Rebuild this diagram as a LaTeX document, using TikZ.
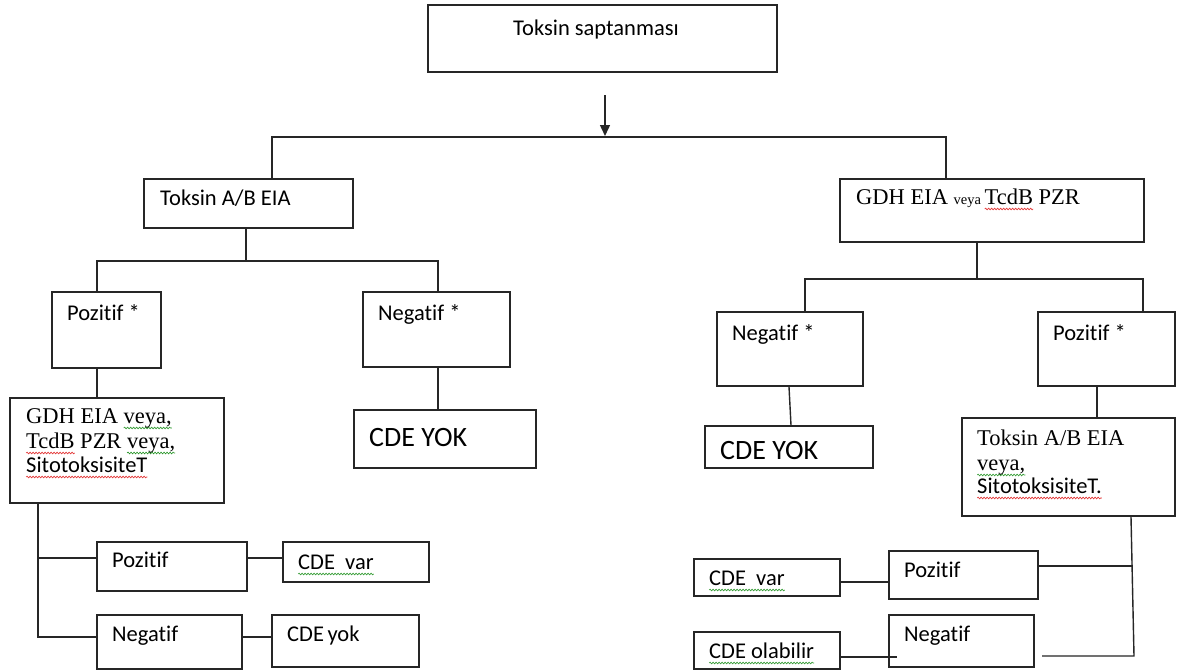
\documentclass[tikz,border=0pt]{standalone}
\usepackage{fontspec}
\setmainfont[Ligatures=NoCommon]{Carlito}
\newfontfamily\serfont{Liberation Serif}
\usetikzlibrary{fit,arrows.meta,decorations.pathmorphing}
\definecolor{sqred}{RGB}{225,40,40}
\definecolor{sqgreen}{RGB}{40,150,40}
\newsavebox{\sqbox}
\newcommand{\squig}[2]{\sbox{\sqbox}{#2}\rlap{\usebox{\sqbox}}\tikz[baseline=0pt]{\useasboundingbox (0pt,0pt) rectangle (\wd\sqbox,0.1pt); \draw[draw=#1, line width=0.6pt, decorate, decoration={snake,amplitude=0.9pt,segment length=3pt}] (0pt,-5pt) -- (\wd\sqbox,-5pt);}}
\newcommand{\rsq}[1]{\squig{sqred}{#1}}
\newcommand{\gsq}[1]{\squig{sqgreen}{#1}}
\newcommand{\smallveya}{\fontsize{14.5}{16}\selectfont}
\tikzset{
  bx/.style={draw=black!85, line width=1.4pt, inner sep=0pt, fill=white},
  ln/.style={draw=black!85, line width=1.4pt},
  lbl/.style={font=\fontsize{22.5}{25}\selectfont, inner sep=0pt, anchor=base west, text=black},
  ser/.style={font=\fontsize{22.5}{25}\selectfont\serfont, inner sep=0pt, anchor=base west, text=black},
  big/.style={font=\fontsize{28}{31}\selectfont, inner sep=0pt, anchor=base west, text=black}
}
\begin{document}
\begin{tikzpicture}[x=1pt,y=-1pt]
\useasboundingbox[fill=white] (0,0) rectangle (1187,672);

% boxes
\node[bx, fit={(428,5) (777,72)}] (T0) {};
\node[bx, fit={(144,179) (353,228)}] (tA) {};
\node[bx, fit={(840,179) (1144,242)}] (G) {};
\node[bx, fit={(52,292) (161,368)}] (p1) {};
\node[bx, fit={(363,292) (510,367)}] (n1) {};
\node[bx, fit={(10,398) (224,503)}] (g1) {};
\node[bx, fit={(354,410) (536,468)}] (c1) {};
\node[bx, fit={(97,542) (247,591)}] (lp) {};
\node[bx, fit={(283,542) (429,582)}] (cv) {};
\node[bx, fit={(97,615) (242,669)}] (lneg) {};
\node[bx, fit={(272,615) (419,667)}] (cy) {};
\node[bx, fit={(717,312) (863,386)}] (rn) {};
\node[bx, fit={(1038,312) (1175,386)}] (rp) {};
\node[bx, fit={(705,426) (873,468)}] (rc) {};
\node[bx, fit={(962,418) (1175,516)}] (rt) {};
\node[bx, fit={(889,551) (1038,599)}] (rpp) {};
\node[bx, fit={(694,559) (840,596)}] (rcv) {};
\node[bx, fit={(889,615) (1034,667)}] (rnn) {};
\node[bx, fit={(694,632) (840,669)}] (rco) {};

% texts
\node[lbl, anchor=base] (T0t) at (596,35) {Toksin saptanması};
\node[lbl] (tAt) at (160,205) {Toksin A/B EIA};
\node[ser] (Gt) at (856,204) {GDH EIA {\smallveya veya }\rsq{TcdB} PZR};
\node[lbl] (p1t) at (67,320) {Pozitif *};
\node[lbl] (n1t) at (378,320) {Negatif *};
\node[ser] (g1a) at (26,423) {GDH EIA \gsq{veya,}};
\node[ser] (g1b) at (26,448) {\rsq{TcdB} PZR \gsq{veya,}};
\node[lbl] (g1c) at (26,472) {\rsq{SitotoksisiteT}};
\node[big] (c1t) at (369,446) {CDE YOK};
\node[lbl] (lpt) at (112,567) {Pozitif};
\node[lbl] (cvt) at (298,569) {\gsq{CDE\ \ var}};
\node[lbl] (lnegt) at (112,641) {Negatif};
\node[lbl] (cyt) at (287,641) {CDE\hspace{3.5pt}yok};
\node[lbl] (rnt) at (732,340) {Negatif *};
\node[lbl] (rpt) at (1053,340) {Pozitif *};
\node[big] (rct) at (720,459) {CDE YOK};
\node[ser] (rta) at (977,445) {Toksin A/B EIA};
\node[ser] (rtb) at (977,470) {\gsq{veya,}};
\node[lbl] (rtc) at (977,493) {\rsq{SitotoksisiteT.}};
\node[lbl] (rppt) at (904,577) {Pozitif};
\node[lbl] (rcvt) at (709,585) {\gsq{CDE\ \ var}};
\node[lbl] (rnnt) at (904,641) {Negatif};
\node[lbl] (rcot) at (709,658) {\gsq{CDE\ olabilir}};

% connectors
\coordinate (a0) at (605,95);
\coordinate (a1) at (605,136);
\draw[ln, -{Triangle[length=11pt,width=10pt]}] (a0) -- (a1);
\draw[ln] (tA.north -| 272,0) -- (272,137) -- (946,137) -- (G.north -| 946,0);

\draw[ln] (tA.south -| 246,0) -- (246,261);
\draw[ln] (p1.north -| 97,0) -- (97,261) -- (438,261) -- (n1.north -| 438,0);
\draw[ln] (p1.south -| 97,0) -- (g1.north -| 97,0);
\draw[ln] (n1.south -| 438,0) -- (c1.north -| 438,0);
\draw[ln] (g1.south -| 38,0) -- (38,637) -- (lneg.west |- 0,637);
\draw[ln] (38,558) -- (lp.west |- 0,558);
\draw[ln] (lp.east |- 0,558) -- (cv.west |- 0,558);
\draw[ln] (lneg.east |- 0,637) -- (cy.west |- 0,637);

\draw[ln] (G.south -| 977,0) -- (977,279);
\draw[ln] (rn.north -| 805,0) -- (805,279) -- (1143,279) -- (rp.north -| 1143,0);
\draw[ln] (rn.south -| 789,0) -- (rc.north -| 791,0);
\draw[ln] (rp.south -| 1097,0) -- (rt.north -| 1097,0);
\coordinate (rend) at (1042,656);
\draw[ln] (rt.south -| 1131,0) -- (1134,656) -- (rend);
\draw[ln] (rpp.east |- 0,566) -- (1132,566);
\draw[ln] (rcv.east |- 0,582) -- (rpp.west |- 0,582);
\draw[ln] (rco.east |- 0,657) -- (897,657);
\end{tikzpicture}
\end{document}
